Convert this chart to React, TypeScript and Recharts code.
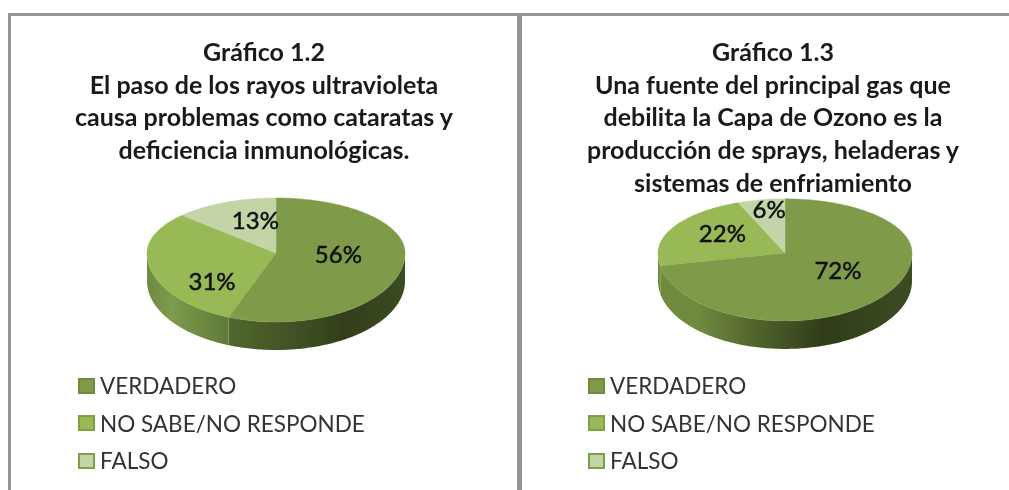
import { PieChart, Pie, Legend } from 'recharts'

const categories = ['VERDADERO', 'NO SABE/NO RESPONDE', 'FALSO']
const values12 = [56, 31, 13]
const values13 = [72, 22, 6]
const title12 = [
    'Gráfico 1.2',
    'El paso de los rayos ultravioleta',
    'causa problemas como cataratas y',
    'deficiencia inmunológicas.',
]
const title13 = [
    'Gráfico 1.3',
    'Una fuente del principal gas que',
    'debilita la Capa de Ozono es la',
    'producción de sprays, heladeras y',
    'sistemas de enfriamiento',
]

const sliceColors = ['#7f9a48', '#98b955', '#c3d4a7']
const swatchBorders = ['#6f8a3f', '#7f9f47', '#7f9f47']
const font = 'Lato, sans-serif'
const topRatio = 55 / 129
const bottomRatio = 69 / 129
const depth = 28

// [offset, colour] pairs per wall segment
const wallStops12 = [
    [[0, '#52672e'], [0.5, '#3a4a20'], [0.65, '#323e1b'], [1, '#3c4b22']],
    [[0, '#6c8a42'], [0.3, '#7e9a4d'], [1, '#5f7a37']],
]
const wallStops13 = [
    [[0, '#6f8b3f'], [0.15, '#71893f'], [0.35, '#55692f'], [0.65, '#303c1a'], [1, '#3d4d22']],
    [[0, '#6f8b3f'], [1, '#6f8b3f']],
]
const labelNudge12 = [[-1, -6], [-1, 20], [5, -8]]
const labelNudge13 = [[4, -5], [-7, -7], [-4, -18]]

function pointOn(cx: number, cy: number, r: number, deg: number, drop = 0) {
    const rad = (deg * Math.PI) / 180
    const sin = Math.sin(rad)
    const ry = r * (sin >= 0 ? topRatio : bottomRatio)
    return [cx + r * Math.cos(rad), cy - ry * sin + drop]
}

function TopSlice(props: any) {
    const { cx, cy, outerRadius, startAngle, endAngle, fill } = props
    const pts = [[cx, cy]]
    const steps = Math.ceil(Math.abs(startAngle - endAngle))
    for (let i = 0; i <= steps; i++) {
        pts.push(pointOn(cx, cy, outerRadius, startAngle + ((endAngle - startAngle) * i) / steps))
    }
    const d = 'M' + pts.map((p) => p.join(' ')).join('L') + 'Z'
    return <path d={d} fill={fill} stroke={fill} strokeWidth={0.5} />
}

function WallSlice(props: any) {
    const { cx, cy, outerRadius, startAngle, endAngle, fill } = props
    const from = Math.min(startAngle, 0)
    const to = Math.max(endAngle, -180)
    if (from <= to) return null
    const top = []
    const bottom = []
    const steps = Math.ceil(from - to)
    for (let i = 0; i <= steps; i++) {
        const a = from + ((to - from) * i) / steps
        top.push(pointOn(cx, cy, outerRadius, a))
        bottom.unshift(pointOn(cx, cy, outerRadius, a, depth))
    }
    const d = 'M' + [...top, ...bottom].map((p) => p.join(' ')).join('L') + 'Z'
    return <path d={d} fill={fill} />
}

function renderLegend() {
    return (
        <div>
            {categories.map((name, i) => (
                <div key={name} style={{ display: 'flex', alignItems: 'center', height: 37.5 }}>
                    <span
                        style={{
                            boxSizing: 'border-box',
                            width: 17,
                            height: 16,
                            marginRight: 5,
                            background: sliceColors[i],
                            border: `2px solid ${swatchBorders[i]}`,
                        }}
                    />
                    <span style={{ fontFamily: font, fontSize: 22.5, color: '#333', whiteSpace: 'nowrap' }}>
                        {name}
                    </span>
                </div>
            ))}
        </div>
    )
}

type CardProps = {
    id: string
    left: number
    width: number
    cx: number
    radius: number
    titleCenter: number
    title: string[]
    values: number[]
    wallStops: (string | number)[][][]
    labelNudge: number[][]
}

function PieCard({ id, left, width, cx, radius, titleCenter, title, values, wallStops, labelNudge }: CardProps) {
    const slices = categories.map((name, i) => ({ name, value: values[i], fill: sliceColors[i] }))
    const walls = categories.map((name, i) => ({ name, value: values[i], fill: `url(#${id}-${i})` }))

    const renderLabel = (p: any) => {
        const [x, y] = pointOn(p.cx, p.cy, p.outerRadius * 0.5, p.midAngle)
        const [nx, ny] = labelNudge[p.index]
        return (
            <text
                x={x + nx}
                y={y + ny}
                textAnchor='middle'
                dominantBaseline='central'
                fontFamily={font}
                fontSize={24}
                stroke='#111'
                strokeWidth={0.5}
                fill='#111'
            >
                {p.value}%
            </text>
        )
    }

    return (
        <div style={{ position: 'absolute', left, top: 0, width, height: 490 }}>
            <PieChart width={width} height={490} margin={{ top: 0, right: 0, bottom: 0, left: 0 }}>
                <defs>
                    {wallStops.map((stops, i) => (
                        <linearGradient key={i} id={`${id}-${i}`} x1='0' y1='0' x2='1' y2='0'>
                            {stops.map(([offset, color]) => (
                                <stop key={offset} offset={offset} stopColor={color as string} />
                            ))}
                        </linearGradient>
                    ))}
                </defs>
                <Pie
                    data={walls}
                    dataKey='value'
                    nameKey='name'
                    cx={cx}
                    cy={253}
                    outerRadius={radius}
                    startAngle={90}
                    endAngle={-270}
                    legendType='none'
                    shape={WallSlice}
                    inactiveShape={WallSlice}
                    activeShape={WallSlice}
                    isAnimationActive={false}
                />
                <Pie
                    data={slices}
                    dataKey='value'
                    nameKey='name'
                    cx={cx}
                    cy={253}
                    outerRadius={radius}
                    startAngle={90}
                    endAngle={-270}
                    shape={TopSlice}
                    inactiveShape={TopSlice}
                    activeShape={TopSlice}
                    label={renderLabel}
                    labelLine={false}
                    isAnimationActive={false}
                />
                <Legend
                    layout='horizontal'
                    align='left'
                    verticalAlign='bottom'
                    wrapperStyle={{ left: 78, top: 367, bottom: 'auto', width: 400 }}
                    content={renderLegend}
                />
            </PieChart>
            <div
                style={{
                    position: 'absolute',
                    top: 35,
                    left: titleCenter - 250,
                    width: 500,
                    textAlign: 'center',
                    fontFamily: font,
                    fontWeight: 700,
                    fontSize: 25,
                    lineHeight: '32.7px',
                    color: '#1a1a1a',
                }}
            >
                {title.map((line) => (
                    <div key={line}>{line}</div>
                ))}
            </div>
        </div>
    )
}

export default function App() {
    const rule = '#959595'
    return (
        <div
            style={{
                position: 'absolute',
                left: 0,
                top: 0,
                width: 1009,
                height: 490,
                overflow: 'hidden',
                background: '#fff',
                filter: 'blur(0.5px)',
            }}
        >
            <div style={{ position: 'absolute', left: 8, top: 13, width: 1001, height: 3, background: rule }} />
            <div style={{ position: 'absolute', left: 8, top: 13, width: 3, height: 477, background: rule }} />
            <div style={{ position: 'absolute', left: 517, top: 13, width: 5, height: 477, background: rule }} />
            <PieCard
                id='g12'
                left={0}
                width={510}
                cx={276}
                radius={129}
                titleCenter={264}
                title={title12}
                values={values12}
                wallStops={wallStops12}
                labelNudge={labelNudge12}
            />
            <PieCard
                id='g13'
                left={510}
                width={499}
                cx={275}
                radius={127}
                titleCenter={263}
                title={title13}
                values={values13}
                wallStops={wallStops13}
                labelNudge={labelNudge13}
            />
        </div>
    )
}
